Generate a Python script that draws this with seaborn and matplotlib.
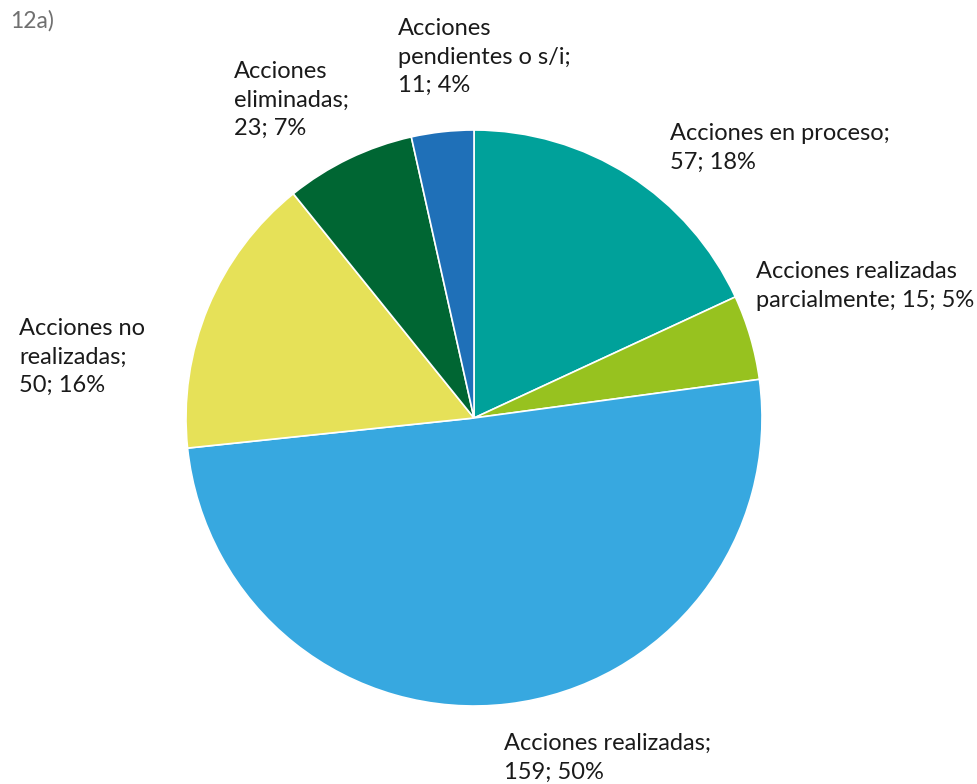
import matplotlib
matplotlib.use("Agg")
import matplotlib.pyplot as plt
import seaborn as sns

# Estado de las acciones
categories = [
    "Acciones en proceso",
    "Acciones realizadas\nparcialmente",
    "Acciones realizadas",
    "Acciones no\nrealizadas",
    "Acciones\neliminadas",
    "Acciones\npendientes o s/i",
]
counts = [57, 15, 159, 50, 23, 11]
pct_labels = ["18%", "5%", "50%", "16%", "7%", "4%"]
colors = ["#00A19A", "#97C21F", "#37A8E0", "#E6E158", "#006633", "#1F70B8"]

sns.set_theme(style="white")
plt.rcParams["font.family"] = ["Lato", "DejaVu Sans"]

W, H = 977, 784
fig = plt.figure(figsize=(W / 100, H / 100), dpi=100)

cx, cy, r = 474, 418, 288
ax = fig.add_axes([(cx - r) / W, (H - cy - r) / H, 2 * r / W, 2 * r / H])
ax.pie(
    counts,
    colors=sns.color_palette(colors),
    startangle=90,
    counterclock=False,
    wedgeprops=dict(edgecolor="white", linewidth=1.2),
)
ax.set_aspect("equal")
ax.set_xlim(-1, 1)
ax.set_ylim(-1, 1)
ax.axis("off")

# label text: name; count; percent
texts = [
    f"{categories[0]};\n{counts[0]}; {pct_labels[0]}",
    f"{categories[1]}; {counts[1]}; {pct_labels[1]}",
    f"{categories[2]};\n{counts[2]}; {pct_labels[2]}",
    f"{categories[3]};\n{counts[3]}; {pct_labels[3]}",
    f"{categories[4]};\n{counts[4]}; {pct_labels[4]}",
    f"{categories[5]};\n{counts[5]}; {pct_labels[5]}",
]
anchors = [(670, 123), (756, 261), (504, 733), (19, 318), (234, 61), (398, 18)]

for t, (x, y) in zip(texts, anchors):
    fig.text(x / W, 1 - y / H, t, ha="left", va="top", fontsize=17,
             color="#1a1a1a", linespacing=1.45)

fig.text(10 / W, 1 - 10 / H, "12a)", ha="left", va="top", fontsize=16.5,
         color="#707070")

fig.savefig("out.png", dpi=100, facecolor="white")
